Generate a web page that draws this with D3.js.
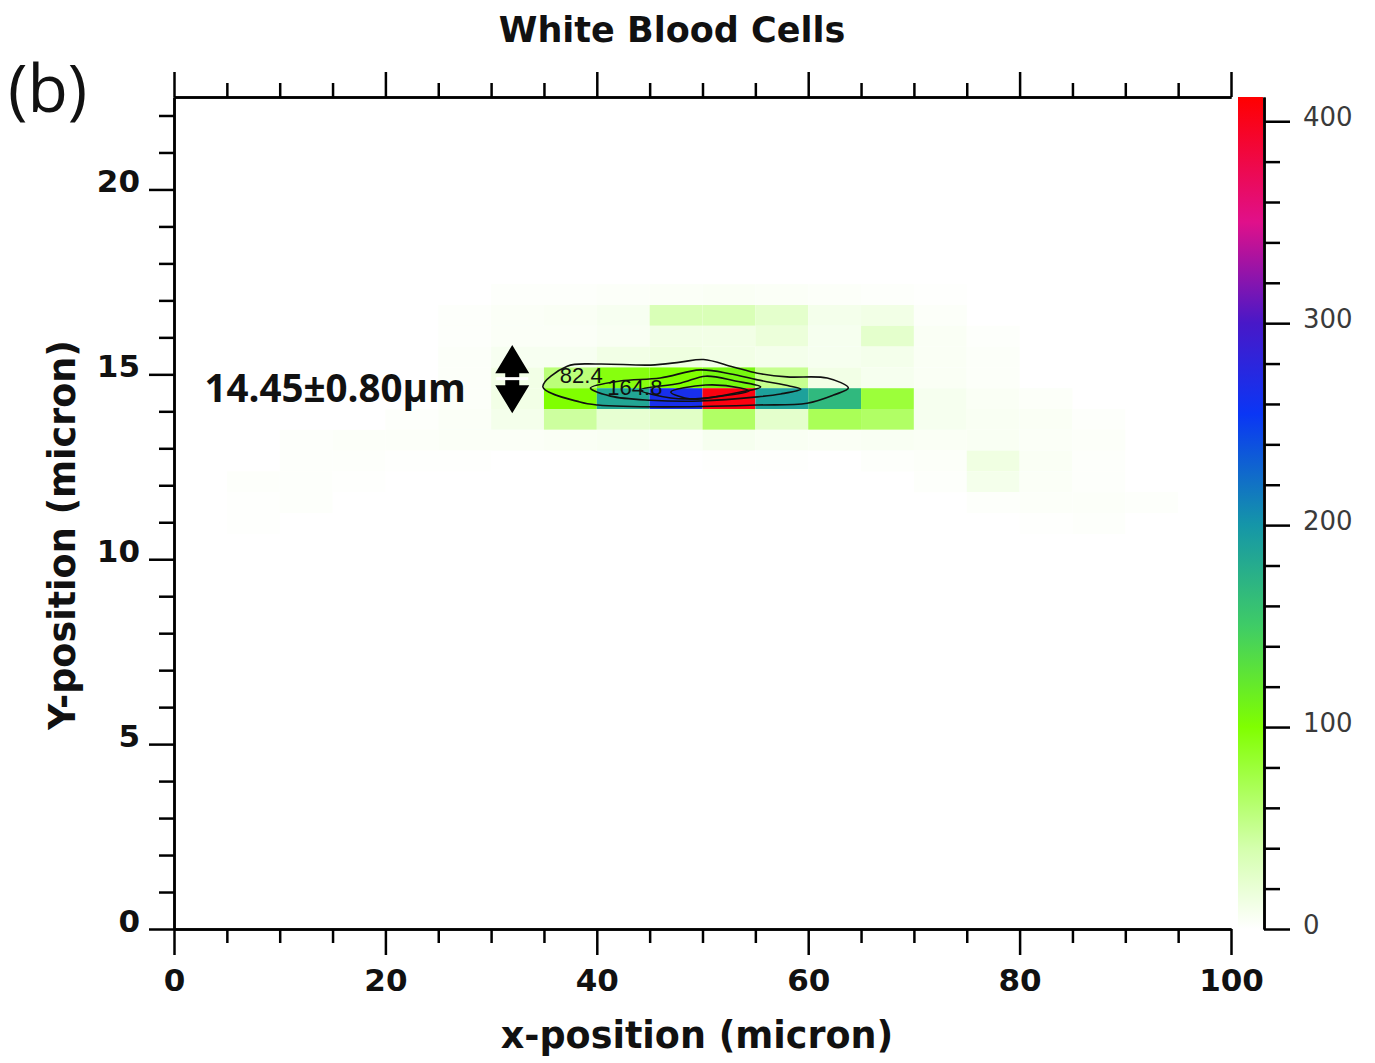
<!DOCTYPE html>
<html>
  <head>
    <title>White Blood Cells</title>
    <meta charset="utf-8">
    <style type="text/css">
      body {
        margin: 0;
        background: #fff;
      }
      svg {
        display: block;
      }
      .axis path,
      .axis line {
        stroke: #000;
        stroke-width: 2.5px;
      }
      .axis text {
        font-family: "DejaVu Sans", Verdana, sans-serif;
        font-weight: bold;
        font-size: 31px;
        fill: #111;
      }
      .caxis path,
      .caxis line {
        stroke: #000;
        stroke-width: 2.5px;
      }
      .caxis text {
        font-family: "DejaVu Sans", Verdana, sans-serif;
        font-size: 26px;
        fill: #3a3a3a;
      }
      .title, .axis-label {
        font-family: "DejaVu Sans", Verdana, sans-serif;
        font-weight: bold;
        fill: #111;
      }
      .contour {
        fill: none;
        stroke: #111;
        stroke-width: 1.6px;
      }
      .contour-label {
        font-family: "Liberation Sans", Arial, sans-serif;
        font-size: 22px;
        fill: #111;
      }
    </style>
  </head>
  <body>
    <script src="https://cdn.jsdelivr.net/npm/d3@7"></script>
    <script>
    // histogram bins: x bins of 5 micron, y bins of 0.5625 micron
    var xBinStart = [0, 5, 10, 15, 20, 25, 30, 35, 40, 45, 50, 55, 60, 65, 70, 75, 80, 85, 90, 95];
    var xBinWidth = 5;
    var yBinHeight = 0.5625;

    // counts per row (row index -> bottom edge = index * yBinHeight), columns follow xBinStart
    var row30 = [0, 0, 0, 0, 0, 0, 2, 2, 3, 4, 5, 4, 3, 2, 1, 0, 0, 0, 0, 0];
    var row29 = [0, 0, 0, 0, 0, 2, 4, 5, 7, 35, 35, 25, 10, 12, 3, 0, 0, 0, 0, 0];
    var row28 = [0, 0, 0, 0, 0, 2, 4, 4, 6, 12, 12, 18, 8, 25, 5, 2, 0, 0, 0, 0];
    var row27 = [0, 0, 0, 0, 0, 3, 7, 7, 12, 15, 12, 10, 8, 10, 5, 3, 0, 0, 0, 0];
    var row26 = [0, 0, 0, 0, 0, 3, 12, 58, 95, 100, 108, 50, 12, 8, 5, 3, 0, 0, 0, 0];
    var row25 = [0, 0, 0, 0, 0, 3, 12, 100, 185, 265, 405, 190, 168, 80, 8, 5, 3, 0, 0, 0];
    var row24 = [0, 0, 0, 0, 2, 4, 10, 45, 22, 28, 65, 25, 70, 65, 8, 6, 5, 2, 0, 0];
    var row23 = [0, 0, 2, 3, 3, 4, 4, 5, 6, 4, 8, 6, 5, 6, 5, 6, 4, 3, 0, 0];
    var row22 = [0, 0, 2, 2, 1, 1, 0, 0, 0, 0, 1, 1, 0, 2, 3, 14, 5, 2, 0, 0];
    var row21 = [0, 2, 2, 1, 0, 0, 0, 0, 0, 0, 0, 0, 0, 0, 2, 10, 4, 2, 0, 0];
    var row20 = [0, 1, 2, 0, 0, 0, 0, 0, 0, 0, 0, 0, 0, 0, 0, 2, 3, 3, 2, 0];
    var row19 = [0, 1, 0, 0, 0, 0, 0, 0, 0, 0, 0, 0, 0, 0, 0, 0, 1, 2, 0, 0];
    var rowIndex = [30, 29, 28, 27, 26, 25, 24, 23, 22, 21, 20, 19];
    var rowCounts = [row30, row29, row28, row27, row26, row25, row24, row23, row22, row21, row20, row19];

    // colour map
    var colorStopValues = [0, 40, 100, 150, 200, 255, 300, 350, 412];
    var colorStopColors = ["#ffffff", "#d4ffad", "#80ff00", "#3fcc66", "#1596a8", "#0a36f5", "#4818c8", "#e0108a", "#ff0000"];

    // ticks
    var xMajorTicks = [0, 20, 40, 60, 80, 100];
    var xMinorTicks = [5, 10, 15, 25, 30, 35, 45, 50, 55, 65, 70, 75, 85, 90, 95];
    var yMajorTicks = [0, 5, 10, 15, 20];
    var yMinorTicks = [1, 2, 3, 4, 6, 7, 8, 9, 11, 12, 13, 14, 16, 17, 18, 19, 21, 22];
    var cMajorTicks = [0, 100, 200, 300, 400];
    var cMinorTicks = [20, 40, 60, 80, 120, 140, 160, 180, 220, 240, 260, 280, 320, 340, 360, 380];

    // contour lines (micron coordinates)
    var contour1 = [[34.9, 14.66], [37.2, 15.22], [40.1, 15.28], [45.1, 15.25], [47.9, 15.33], [50.1, 15.40],
                    [52.9, 15.20], [55.2, 15.03], [58.0, 14.93], [61.8, 14.90], [63.8, 14.63], [62.4, 14.44],
                    [59.9, 14.22], [55.2, 14.17], [46.3, 14.12], [40.1, 14.17], [38.4, 14.25]];
    var contour2 = [[39.4, 14.63], [42.2, 14.82], [46.0, 14.90], [49.8, 15.12], [52.7, 15.01], [55.2, 14.85],
                    [58.3, 14.68], [59.3, 14.60], [57.4, 14.47], [55.2, 14.39], [49.8, 14.28], [45.1, 14.30],
                    [41.3, 14.41]];
    var contour3 = [[44.1, 14.58], [47.9, 14.76], [50.3, 14.95], [53.1, 14.82], [55.5, 14.66], [53.6, 14.52],
                    [50.3, 14.36], [47.0, 14.36]];
    var contour4 = [[47.0, 14.52], [50.3, 14.71], [53.6, 14.63], [54.4, 14.55], [51.2, 14.39], [48.9, 14.33]];
    var contourLabels = [{text: "82.4", x: 36.5, y: 14.98}, {text: "164.8", x: 41.0, y: 14.66}];

    // annotation
    var sizeText = "14.45\u00b10.80\u00b5m";
    var sizeTextPos = [27.6, 14.63];
    var arrowX = 32.0, arrowTop = 15.79, arrowBottom = 13.95;

    var margin = {top: 97, right: 144, bottom: 134, left: 174};
    var width = 1375 - margin.left - margin.right,
        height = 1063 - margin.top - margin.bottom;

    var x = d3.scaleLinear().domain([0, 100]).range([0, width]);
    var y = d3.scaleLinear().domain([0, 22.5]).range([height, 0]);
    var color = d3.scaleLinear().domain(colorStopValues).range(colorStopColors).interpolate(d3.interpolateRgb);

    var svgRoot = d3.select("body").append("svg")
        .attr("width", 1375)
        .attr("height", 1063);

    svgRoot.append("rect").attr("width", 1375).attr("height", 1063).attr("fill", "#fff");

    var svg = svgRoot.append("g")
        .attr("transform", "translate(" + margin.left + "," + margin.top + ")");

    // heatmap cells
    var cells = [];
    rowIndex.forEach(function(r, i) {
      rowCounts[i].forEach(function(v, j) {
        if (v > 0) cells.push({x0: xBinStart[j], y0: r * yBinHeight, value: v});
      });
    });

    svg.append("g").selectAll("rect")
        .data(cells)
        .enter().append("rect")
        .attr("x", function(d) { return x(d.x0); })
        .attr("y", function(d) { return y(d.y0 + yBinHeight); })
        .attr("width", function(d) { return x(d.x0 + xBinWidth) - x(d.x0); })
        .attr("height", function(d) { return y(d.y0) - y(d.y0 + yBinHeight); })
        .attr("fill", function(d) { return color(d.value); });

    // contours
    var line = d3.line()
        .x(function(d) { return x(d[0]); })
        .y(function(d) { return y(d[1]); })
        .curve(d3.curveCatmullRomClosed.alpha(0.5));

    svg.append("g").selectAll("path")
        .data([contour1, contour2, contour3, contour4])
        .enter().append("path")
        .attr("class", "contour")
        .attr("d", line);

    svg.append("g").selectAll("text")
        .data(contourLabels)
        .enter().append("text")
        .attr("class", "contour-label")
        .attr("x", function(d) { return x(d.x); })
        .attr("y", function(d) { return y(d.y); })
        .attr("dy", "0.35em")
        .text(function(d) { return d.text; });

    // axes
    svg.append("g").attr("class", "x axis")
        .attr("transform", "translate(0," + height + ")")
        .call(d3.axisBottom(x).tickValues(xMinorTicks).tickSize(14).tickSizeOuter(0).tickFormat(""));
    svg.append("g").attr("class", "x axis")
        .attr("transform", "translate(0," + height + ")")
        .call(d3.axisBottom(x).tickValues(xMajorTicks).tickSize(26).tickSizeOuter(0).tickPadding(14));

    svg.append("g").attr("class", "x axis")
        .call(d3.axisTop(x).tickValues(xMinorTicks).tickSize(14).tickSizeOuter(0).tickFormat(""));
    svg.append("g").attr("class", "x axis")
        .call(d3.axisTop(x).tickValues(xMajorTicks).tickSize(25).tickSizeOuter(0).tickFormat(""));

    svg.append("g").attr("class", "y axis")
        .call(d3.axisLeft(y).tickValues(yMinorTicks).tickSize(15).tickSizeOuter(0).tickFormat(""));
    var yMajor = svg.append("g").attr("class", "y axis")
        .call(d3.axisLeft(y).tickValues(yMajorTicks).tickSize(25).tickSizeOuter(0).tickPadding(9));
    yMajor.selectAll("text").attr("dy", "0.08em");

    // size annotation
    var ax = x(arrowX), at = y(arrowTop), ab = y(arrowBottom), am = (at + ab) / 2;
    var arrow = svg.append("g");
    arrow.append("path")
        .attr("d", "M" + ax + "," + at + "L" + (ax + 17) + "," + (am - 6) + "L" + (ax + 7) + "," + (am - 6) +
                   "L" + (ax + 7) + "," + (am + 6) + "L" + (ax + 17) + "," + (am + 6) + "L" + ax + "," + ab +
                   "L" + (ax - 17) + "," + (am + 6) + "L" + (ax - 7) + "," + (am + 6) + "L" + (ax - 7) + "," + (am - 6) +
                   "L" + (ax - 17) + "," + (am - 6) + "Z")
        .attr("fill", "#000");
    arrow.append("rect")
        .attr("x", ax - 16).attr("y", am - 2).attr("width", 32).attr("height", 3)
        .attr("fill", "#fff");

    svg.append("text")
        .attr("x", x(sizeTextPos[0]))
        .attr("y", y(sizeTextPos[1]))
        .attr("dy", "0.36em")
        .attr("text-anchor", "end")
        .style("font-family", "'Open Sans', sans-serif")
        .style("font-weight", 700)
        .style("font-size", "38.5px")
        .style("fill", "#111")
        .text(sizeText);

    // colour bar
    var cbX = 1238 - margin.left, cbW = 25;
    var cScale = d3.scaleLinear().domain([0, 412]).range([height, 0]);
    var defs = svgRoot.append("defs");
    var grad = defs.append("linearGradient")
        .attr("id", "cbar")
        .attr("x1", 0).attr("y1", 1).attr("x2", 0).attr("y2", 0);
    grad.selectAll("stop")
        .data(colorStopValues)
        .enter().append("stop")
        .attr("offset", function(d) { return d / 412; })
        .attr("stop-color", function(d, i) { return colorStopColors[i]; });

    svg.append("rect")
        .attr("x", cbX).attr("y", 0)
        .attr("width", cbW).attr("height", height)
        .attr("fill", "url(#cbar)");

    svg.append("g").attr("class", "caxis")
        .attr("transform", "translate(" + (cbX + cbW + 1) + ",0)")
        .call(d3.axisRight(cScale).tickValues(cMinorTicks).tickSize(16).tickSizeOuter(0).tickFormat(""));
    var cMajor = svg.append("g").attr("class", "caxis")
        .attr("transform", "translate(" + (cbX + cbW + 1) + ",0)")
        .call(d3.axisRight(cScale).tickValues(cMajorTicks).tickSize(26).tickSizeOuter(0).tickPadding(13));
    cMajor.selectAll("text").attr("dy", "0.17em");

    // titles
    svgRoot.append("text")
        .attr("class", "title")
        .attr("x", 672).attr("y", 42)
        .attr("text-anchor", "middle")
        .style("font-size", "35px")
        .text("White Blood Cells");

    svgRoot.append("text")
        .attr("x", 8).attr("y", 112)
        .style("font-family", "'Open Sans', sans-serif")
        .style("font-size", "66px")
        .style("fill", "#111")
        .text("(b)");

    svgRoot.append("text")
        .attr("class", "axis-label")
        .attr("x", 697).attr("y", 1048)
        .attr("text-anchor", "middle")
        .style("font-size", "36.5px")
        .text("x-position (micron)");

    svgRoot.append("text")
        .attr("class", "axis-label")
        .attr("transform", "translate(75,535) rotate(-90)")
        .attr("text-anchor", "middle")
        .style("font-size", "36.5px")
        .text("Y-position (micron)");
    </script>
  </body>
</html>
